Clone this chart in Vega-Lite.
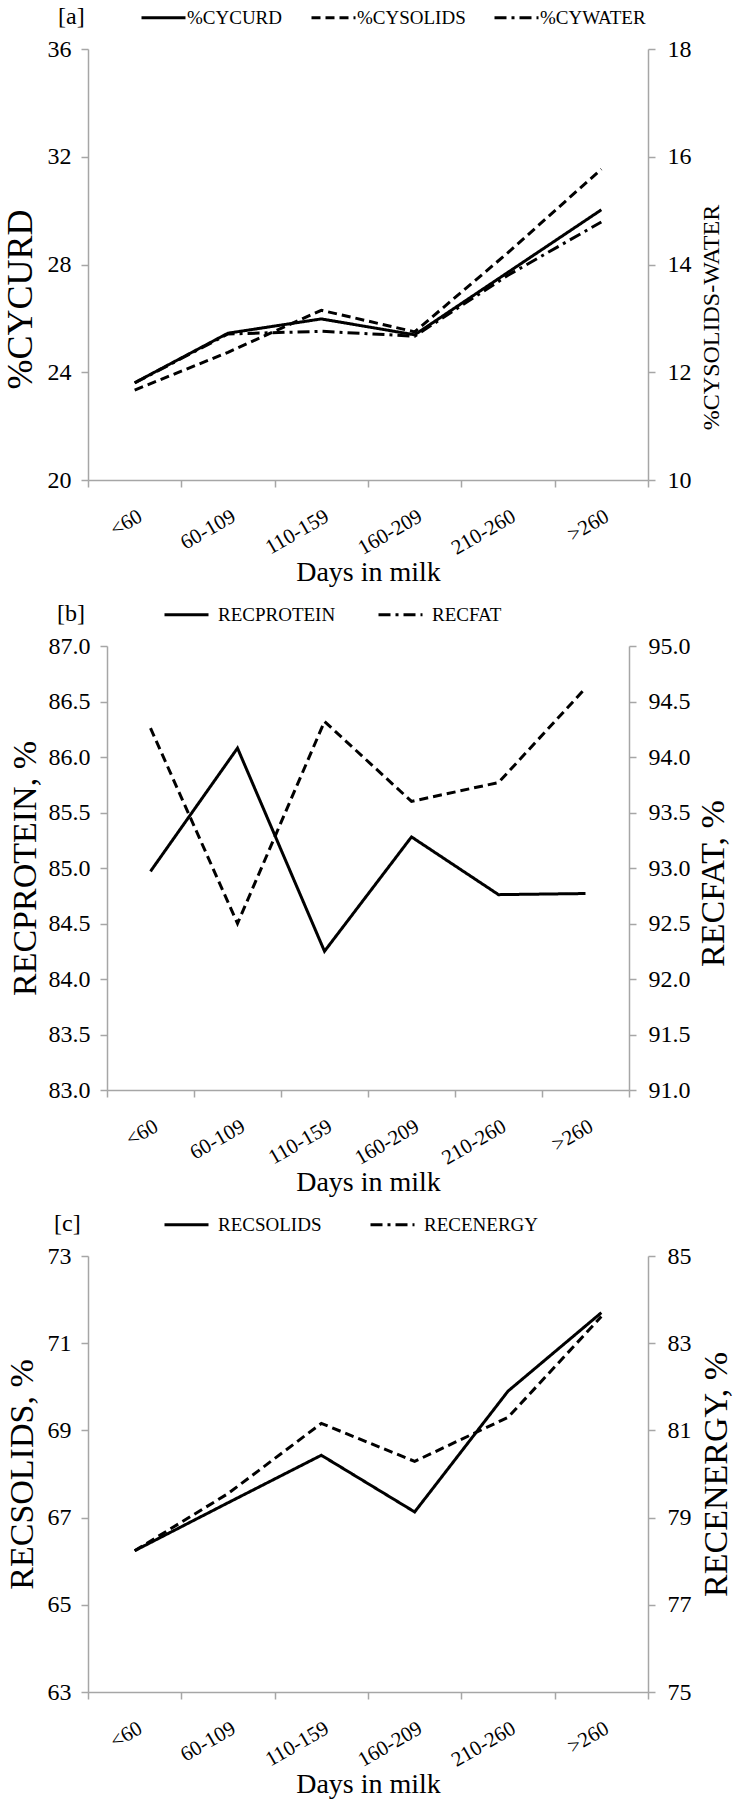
{
  "$schema": "https://vega.github.io/schema/vega-lite/v6.json",
  "padding": {"left": 2, "top": -6, "right": 2, "bottom": 4},
  "background": "white",
  "config": {
    "font": "Liberation Serif",
    "view": {"stroke": null},
    "axis": {
      "labelFont": "Liberation Serif", "titleFont": "Liberation Serif",
      "labelFontSize": 24, "titleFontSize": 34, "titleFontWeight": "normal",
      "labelColor": "#000000", "titleColor": "#000000",
      "domainColor": "#a6a6a6", "tickColor": "#a6a6a6",
      "domainWidth": 1.5, "tickWidth": 1.5, "tickSize": 7, "grid": false,
      "labelPadding": 10
    },
    "axisX": {"labelFontSize": 21, "labelPadding": 18, "titlePadding": 0, "titleFontSize": 28},
    "title": {"font": "Liberation Serif", "fontSize": 24, "fontWeight": "normal", "color": "#000000"},
    "legend": {
      "labelFont": "Liberation Serif", "labelFontSize": 19, "labelColor": "#000000",
      "symbolType": "stroke", "symbolStrokeWidth": 3, "symbolStrokeColor": "#000000",
      "symbolSize": 1936, "direction": "horizontal", "orient": "none"
    },
    "line": {"color": "#000000", "strokeWidth": 3}
  },
  "datasets": {
    "a": [
      {"dim": "<60", "series": "%CYCURD", "value": 23.61},
      {"dim": "60-109", "series": "%CYCURD", "value": 25.45},
      {"dim": "110-159", "series": "%CYCURD", "value": 25.98},
      {"dim": "160-209", "series": "%CYCURD", "value": 25.39},
      {"dim": "210-260", "series": "%CYCURD", "value": 27.71},
      {"dim": ">260", "series": "%CYCURD", "value": 30.03},
      {"dim": "<60", "series": "%CYSOLIDS", "value": 11.67},
      {"dim": "60-109", "series": "%CYSOLIDS", "value": 12.37},
      {"dim": "110-159", "series": "%CYSOLIDS", "value": 13.15},
      {"dim": "160-209", "series": "%CYSOLIDS", "value": 12.75},
      {"dim": "210-260", "series": "%CYSOLIDS", "value": 14.22},
      {"dim": ">260", "series": "%CYSOLIDS", "value": 15.77},
      {"dim": "<60", "series": "%CYWATER", "value": 11.8},
      {"dim": "60-109", "series": "%CYWATER", "value": 12.71},
      {"dim": "110-159", "series": "%CYWATER", "value": 12.76},
      {"dim": "160-209", "series": "%CYWATER", "value": 12.67},
      {"dim": "210-260", "series": "%CYWATER", "value": 13.8},
      {"dim": ">260", "series": "%CYWATER", "value": 14.79}
    ],
    "b": [
      {"dim": "<60", "series": "RECPROTEIN", "value": 84.97},
      {"dim": "60-109", "series": "RECPROTEIN", "value": 86.08},
      {"dim": "110-159", "series": "RECPROTEIN", "value": 84.25},
      {"dim": "160-209", "series": "RECPROTEIN", "value": 85.28},
      {"dim": "210-260", "series": "RECPROTEIN", "value": 84.76},
      {"dim": ">260", "series": "RECPROTEIN", "value": 84.77},
      {"dim": "<60", "series": "RECFAT", "value": 94.26},
      {"dim": "60-109", "series": "RECFAT", "value": 92.5},
      {"dim": "110-159", "series": "RECFAT", "value": 94.32},
      {"dim": "160-209", "series": "RECFAT", "value": 93.6},
      {"dim": "210-260", "series": "RECFAT", "value": 93.77},
      {"dim": ">260", "series": "RECFAT", "value": 94.62}
    ],
    "c": [
      {"dim": "<60", "series": "RECSOLIDS", "value": 66.24},
      {"dim": "60-109", "series": "RECSOLIDS", "value": 67.34},
      {"dim": "110-159", "series": "RECSOLIDS", "value": 68.43},
      {"dim": "160-209", "series": "RECSOLIDS", "value": 67.13},
      {"dim": "210-260", "series": "RECSOLIDS", "value": 69.9},
      {"dim": ">260", "series": "RECSOLIDS", "value": 71.7},
      {"dim": "<60", "series": "RECENERGY", "value": 78.24},
      {"dim": "60-109", "series": "RECENERGY", "value": 79.55},
      {"dim": "110-159", "series": "RECENERGY", "value": 81.16},
      {"dim": "160-209", "series": "RECENERGY", "value": 80.29},
      {"dim": "210-260", "series": "RECENERGY", "value": 81.3},
      {"dim": ">260", "series": "RECENERGY", "value": 83.61}
    ]
  },
  "vconcat": [
    {
      "width": 560, "height": 431,
      "data": {"name": "a"},
      "title": {"text": "[a]", "anchor": "start", "frame": "group", "dx": -30, "offset": -35},
      "encoding": {
        "x": {"field": "dim", "type": "nominal", "sort": ["<60", "60-109", "110-159", "160-209", "210-260", ">260"],
          "scale": {"type": "band", "paddingInner": 0, "paddingOuter": 0}, "bandPosition": 0.5,
          "axis": {"title": "Days in milk", "labelAngle": -30, "tickBand": "extent"}}
      },
      "layer": [
        {
          "transform": [{"filter": "datum.series === '%CYCURD'"}],
          "mark": {"type": "line"},
          "encoding": {
            "y": {"field": "value", "type": "quantitative", "scale": {"domain": [20, 36], "nice": false, "zero": false},
              "axis": {"orient": "left", "values": [20, 24, 28, 32, 36], "title": "%CYCURD", "titleFontSize": 36, "titlePadding": 8, "titleY": 250}},
            "strokeDash": {"field": "series", "type": "nominal",
              "scale": {"domain": ["%CYCURD", "%CYSOLIDS", "%CYWATER"], "range": [[1, 0], [9, 5], [12, 5, 3, 5]]},
              "legend": {"title": null, "legendX": 52, "legendY": -55, "columnPadding": 22, "labelOffset": 0}}
          }
        },
        {
          "transform": [{"filter": "datum.series !== '%CYCURD'"}],
          "mark": {"type": "line"},
          "encoding": {
            "y": {"field": "value", "type": "quantitative", "scale": {"domain": [10, 18], "nice": false, "zero": false},
              "axis": {"orient": "right", "values": [10, 12, 14, 16, 18], "title": "%CYSOLIDS-WATER", "titleFontSize": 24, "titleAngle": 270, "titleBaseline": "top", "labelPadding": 12, "titlePadding": 8, "titleY": 268}},
            "strokeDash": {"field": "series", "type": "nominal"}
          }
        }
      ],
      "resolve": {"scale": {"y": "independent"}}
    },
    {
      "width": 522, "height": 444,
      "data": {"name": "b"},
      "title": {"text": "[b]", "anchor": "start", "frame": "group", "dx": -50, "offset": -35},
      "encoding": {
        "x": {"field": "dim", "type": "nominal", "sort": ["<60", "60-109", "110-159", "160-209", "210-260", ">260"],
          "scale": {"type": "band", "paddingInner": 0, "paddingOuter": 0}, "bandPosition": 0.5,
          "axis": {"title": "Days in milk", "labelAngle": -30, "tickBand": "extent"}}
      },
      "layer": [
        {
          "transform": [{"filter": "datum.series === 'RECPROTEIN'"}],
          "mark": {"type": "line"},
          "encoding": {
            "y": {"field": "value", "type": "quantitative", "scale": {"domain": [83, 87], "nice": false, "zero": false},
              "axis": {"orient": "left", "values": [83, 83.5, 84, 84.5, 85, 85.5, 86, 86.5, 87], "format": ".1f", "title": "RECPROTEIN, %", "titlePadding": 6}},
            "strokeDash": {"field": "series", "type": "nominal",
              "scale": {"domain": ["RECPROTEIN", "RECFAT"], "range": [[1, 0], [12, 5, 3, 5]]},
              "legend": {"title": null, "legendX": 56, "legendY": -55, "columnPadding": 36, "labelOffset": 8}}
          }
        },
        {
          "transform": [{"filter": "datum.series === 'RECFAT'"}],
          "mark": {"type": "line", "strokeDash": [9, 5]},
          "encoding": {
            "y": {"field": "value", "type": "quantitative", "scale": {"domain": [91, 95], "nice": false, "zero": false},
              "axis": {"orient": "right", "values": [91, 91.5, 92, 92.5, 93, 93.5, 94, 94.5, 95], "format": ".1f", "title": "RECFAT, %", "titleAngle": 270, "titleBaseline": "top", "labelPadding": 12, "titlePadding": 6, "titleY": 237}}
          }
        }
      ],
      "resolve": {"scale": {"y": "independent"}}
    },
    {
      "width": 560, "height": 436,
      "data": {"name": "c"},
      "title": {"text": "[c]", "anchor": "start", "frame": "group", "dx": -34, "offset": -35},
      "encoding": {
        "x": {"field": "dim", "type": "nominal", "sort": ["<60", "60-109", "110-159", "160-209", "210-260", ">260"],
          "scale": {"type": "band", "paddingInner": 0, "paddingOuter": 0}, "bandPosition": 0.5,
          "axis": {"title": "Days in milk", "labelAngle": -30, "tickBand": "extent"}}
      },
      "layer": [
        {
          "transform": [{"filter": "datum.series === 'RECSOLIDS'"}],
          "mark": {"type": "line"},
          "encoding": {
            "y": {"field": "value", "type": "quantitative", "scale": {"domain": [63, 73], "nice": false, "zero": false},
              "axis": {"orient": "left", "values": [63, 65, 67, 69, 71, 73], "title": "RECSOLIDS, %", "titlePadding": 8}},
            "strokeDash": {"field": "series", "type": "nominal",
              "scale": {"domain": ["RECSOLIDS", "RECENERGY"], "range": [[1, 0], [12, 5, 3, 5]]},
              "legend": {"title": null, "legendX": 75, "legendY": -55, "columnPadding": 42, "labelOffset": 8}}
          }
        },
        {
          "transform": [{"filter": "datum.series === 'RECENERGY'"}],
          "mark": {"type": "line", "strokeDash": [9, 5]},
          "encoding": {
            "y": {"field": "value", "type": "quantitative", "scale": {"domain": [75, 85], "nice": false, "zero": false},
              "axis": {"orient": "right", "values": [75, 77, 79, 81, 83, 85], "title": "RECENERGY, %", "titleAngle": 270, "titleBaseline": "top", "labelPadding": 12, "titlePadding": 8}}
          }
        }
      ],
      "resolve": {"scale": {"y": "independent"}}
    }
  ],
  "spacing": 166,
  "bounds": "flush",
  "center": true,
  "resolve": {"scale": {"x": "independent", "y": "independent", "strokeDash": "independent"}, "legend": {"strokeDash": "independent"}}
}
